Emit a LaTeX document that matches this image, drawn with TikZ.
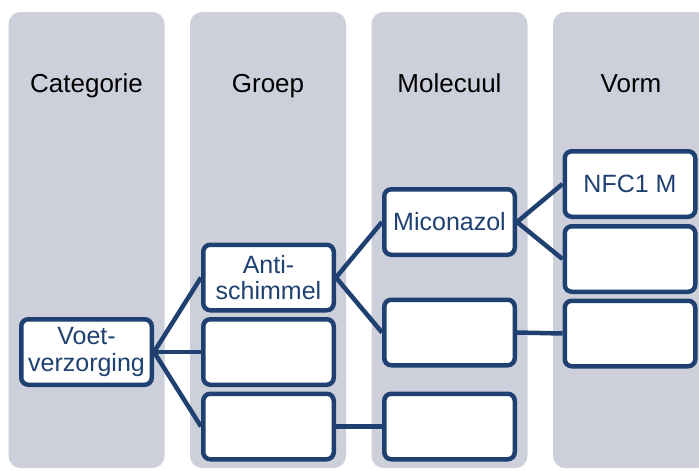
\documentclass[tikz,border=0pt]{standalone}
\usepackage{fontspec}
\setmainfont{Liberation Sans}
\definecolor{lane}{RGB}{205,208,218}
\definecolor{navy}{RGB}{31,65,114}
\begin{document}
\begin{tikzpicture}[x=1pt,y=-1pt,
  lanebox/.style={fill=lane,draw=none,rounded corners=12pt},
  header/.style={font=\fontsize{26}{29}\selectfont,text=black,inner sep=0pt,anchor=base},
  item/.style={draw=navy,line width=4.5pt,fill=white,rounded corners=7pt,
    minimum width=130.5pt,minimum height=65.5pt,inner sep=0pt,align=center,
    text=navy,font=\fontsize{25}{26.5}\selectfont},
  link/.style={draw=navy,line width=4.5pt}]
\useasboundingbox (0,0) rectangle (699,471);
\begin{scope}
\clip (0,0) rectangle (699,471);
% lanes
\fill[lanebox] (8.5,12) rectangle (164.5,468);
\fill[lanebox] (190,12) rectangle (346,468);
\fill[lanebox] (371.5,12) rectangle (527.5,468);
\fill[lanebox] (553,12) rectangle (709,468);
\end{scope}
% lane titles
\node[header] (hcat) at (86.5,92) {Categorie};
\node[header] (hgrp) at (268,92) {Groep};
\node[header] (hmol) at (449.5,92) {Molecuul};
\node[header] (hvrm) at (631,92) {Vorm};
% boxes
\node[item] (voet) at (86.5,352) {Voet-\\verzorging};
\node[item] (g1) at (268.5,277.5) {Anti-\\schimmel};
\node[item] (g2) at (268.5,352) {};
\node[item] (g3) at (268.5,426.5) {};
\node[item] (m1) at (449.5,222) {Miconazol};
\node[item] (m2) at (449.5,332.5) {};
\node[item] (m3) at (449.5,426.5) {};
\node[item] (v1) at (630,184) {NFC1 M};
\node[item] (v2) at (630,259) {};
\node[item] (v3) at (630,333.5) {};
% connectors
\draw[link] (voet.east) -- (g1.west);
\draw[link] (voet.east) -- (g2.west);
\draw[link] (voet.east) -- (g3.west);
\draw[link] (g1.east) -- (m1.west);
\draw[link] (g1.east) -- (m2.west);
\draw[link] (g3.east) -- (m3.west);
\draw[link] (m1.east) -- (v1.west);
\draw[link] (m1.east) -- (v2.west);
\draw[link] (m2.east) -- (v3.west);
\end{tikzpicture}
\end{document}
